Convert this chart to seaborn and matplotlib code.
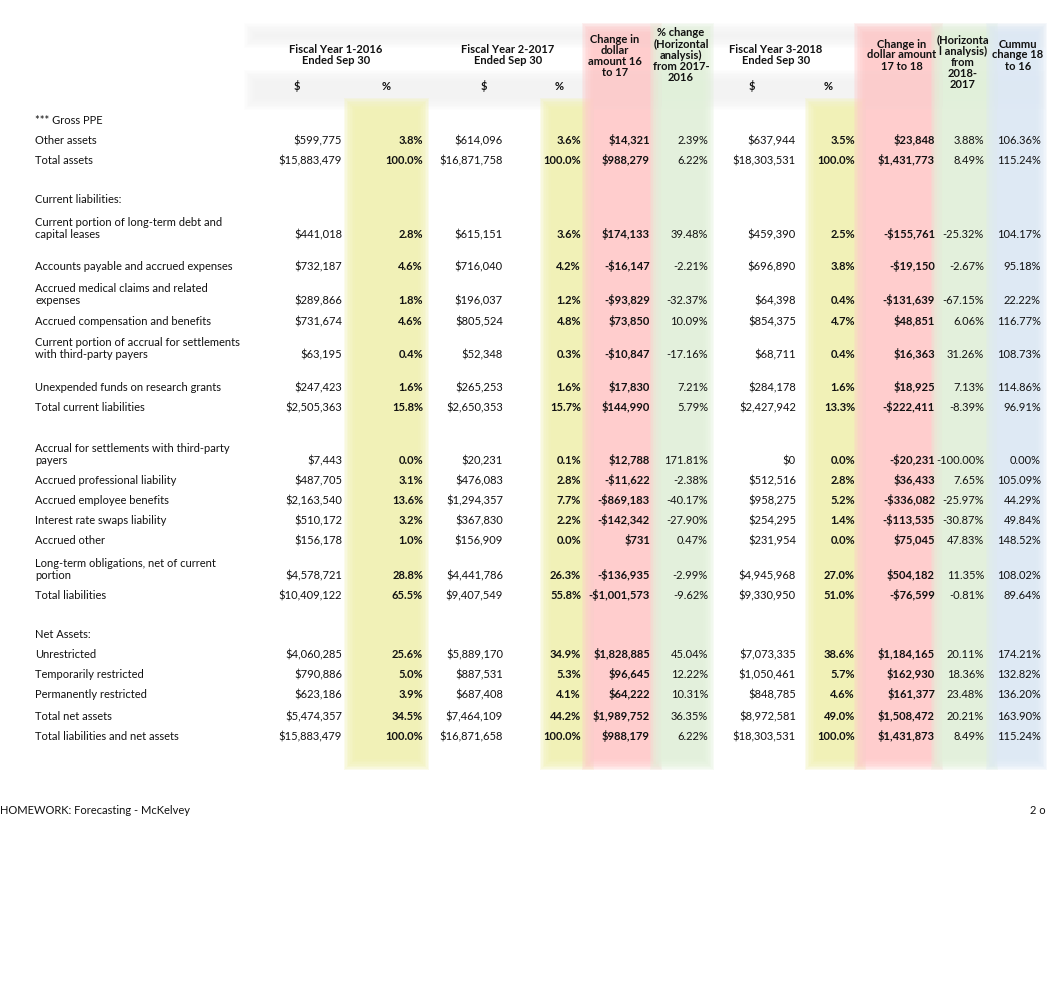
import matplotlib
matplotlib.use("Agg")
import matplotlib.pyplot as plt
import seaborn as sns
from matplotlib.patches import Rectangle

# balance sheet rows (None = heading / blank row)
labels = ["*** Gross PPE", "Other assets", "Total assets", "Current liabilities:",
          "Current portion of long-term debt and\ncapital leases",
          "Accounts payable and accrued expenses",
          "Accrued medical claims and related\nexpenses",
          "Accrued compensation and benefits",
          "Current portion of accrual for settlements\nwith third-party payers",
          "Unexpended funds on research grants", "Total current liabilities",
          "Accrual for settlements with third-party\npayers",
          "Accrued professional liability", "Accrued employee benefits",
          "Interest rate swaps liability", "Accrued other",
          "Long-term obligations, net of current\nportion", "Total liabilities",
          "Net Assets:", "Unrestricted", "Temporarily restricted",
          "Permanently restricted", "Total net assets",
          "Total liabilities and net assets"]

fy1_usd = [None, 599775, 15883479, None, 441018, 732187, 289866, 731674, 63195, 247423, 2505363,
           7443, 487705, 2163540, 510172, 156178, 4578721, 10409122, None,
           4060285, 790886, 623186, 5474357, 15883479]
fy1_pct = [None, 3.8, 100.0, None, 2.8, 4.6, 1.8, 4.6, 0.4, 1.6, 15.8,
           0.0, 3.1, 13.6, 3.2, 1.0, 28.8, 65.5, None, 25.6, 5.0, 3.9, 34.5, 100.0]
fy2_usd = [None, 614096, 16871758, None, 615151, 716040, 196037, 805524, 52348, 265253, 2650353,
           20231, 476083, 1294357, 367830, 156909, 4441786, 9407549, None,
           5889170, 887531, 687408, 7464109, 16871658]
fy2_pct = [None, 3.6, 100.0, None, 3.6, 4.2, 1.2, 4.8, 0.3, 1.6, 15.7,
           0.1, 2.8, 7.7, 2.2, 0.0, 26.3, 55.8, None, 34.9, 5.3, 4.1, 44.2, 100.0]
chg_1617 = [None, 14321, 988279, None, 174133, -16147, -93829, 73850, -10847, 17830, 144990,
            12788, -11622, -869183, -142342, 731, -136935, -1001573, None,
            1828885, 96645, 64222, 1989752, 988179]
pct_1617 = [None, 2.39, 6.22, None, 39.48, -2.21, -32.37, 10.09, -17.16, 7.21, 5.79,
            171.81, -2.38, -40.17, -27.90, 0.47, -2.99, -9.62, None,
            45.04, 12.22, 10.31, 36.35, 6.22]
fy3_usd = [None, 637944, 18303531, None, 459390, 696890, 64398, 854375, 68711, 284178, 2427942,
           0, 512516, 958275, 254295, 231954, 4945968, 9330950, None,
           7073335, 1050461, 848785, 8972581, 18303531]
fy3_pct = [None, 3.5, 100.0, None, 2.5, 3.8, 0.4, 4.7, 0.4, 1.6, 13.3,
           0.0, 2.8, 5.2, 1.4, 0.0, 27.0, 51.0, None, 38.6, 5.7, 4.6, 49.0, 100.0]
chg_1718 = [None, 23848, 1431773, None, -155761, -19150, -131639, 48851, 16363, 18925, -222411,
            -20231, 36433, -336082, -113535, 75045, 504182, -76599, None,
            1184165, 162930, 161377, 1508472, 1431873]
pct_1718 = [None, 3.88, 8.49, None, -25.32, -2.67, -67.15, 6.06, 31.26, 7.13, -8.39,
            -100.00, 7.65, -25.97, -30.87, 47.83, 11.35, -0.81, None,
            20.11, 18.36, 23.48, 20.21, 8.49]
cumm = [None, 106.36, 115.24, None, 104.17, 95.18, 22.22, 116.77, 108.73, 114.86, 96.91,
        0.00, 105.09, 44.29, 49.84, 148.52, 108.02, 89.64, None,
        174.21, 132.82, 136.20, 163.90, 115.24]

headers = ["Fiscal Year 1-2016\nEnded Sep 30", "Fiscal Year 2-2017\nEnded Sep 30",
           "Change in\ndollar\namount 16\nto 17",
           "% change\n(Horizontal\nanalysis)\nfrom 2017-\n2016",
           "Fiscal Year 3-2018\nEnded Sep 30", "Change in\ndollar amount\n17 to 18",
           "(Horizonta\nl analysis)\nfrom\n2018-\n2017", "Cummu\nchange 18\nto 16"]

# layout (pixel coordinates)
row_y = [120, 140, 160, 199, 234, 266, 300, 321, 354, 387, 407, 460, 480, 500, 520,
         540, 575, 595, 634, 654, 674, 694, 716, 736]
header_xy = [(336, 55), (508, 55), (615, 56), (681, 55), (776, 55), (902, 55),
             (963, 62), (1018, 55)]
sub_xy = [(297, "$"), (386, "%"), (484, "$"), (559, "%"), (752, "$"), (828, "%")]


def usd(v):
    return ("-$" if v < 0 else "$") + f"{abs(v):,.0f}"


def pct1(v):
    return f"{v:.1f}%"


def pct2(v):
    return f"{v:.2f}%"


columns = [(fy1_usd, 342, usd, False), (fy1_pct, 423, pct1, True),
           (fy2_usd, 503, usd, False), (fy2_pct, 581, pct1, True),
           (chg_1617, 650, usd, True), (pct_1617, 708, pct2, False),
           (fy3_usd, 796, usd, False), (fy3_pct, 855, pct1, True),
           (chg_1718, 935, usd, True), (pct_1718, 984, pct2, False),
           (cumm, 1041, pct2, False)]

bands = [(350, 423, 104, 764, "#f1f1b0"), (546, 588, 104, 764, "#f1f1b0"),
         (588, 656, 29, 764, "#ffc9c9"), (656, 708, 29, 764, "#e1f0d9"),
         (811, 860, 104, 764, "#f1f1b0"), (860, 937, 29, 764, "#ffc9c9"),
         (937, 992, 29, 764, "#e1f0d9"), (992, 1041, 29, 764, "#dce8f4")]

sns.set_theme(style="white")
plt.rcParams["font.family"] = ["Lato", "DejaVu Sans"]

fig = plt.figure(figsize=(10.62, 10.01), dpi=100)
ax = fig.add_axes([0, 0, 1, 1])
ax.set_xlim(0, 1062)
ax.set_ylim(1001, 0)
ax.axis("off")


def soft_rect(x0, x1, y0, y1, color, n=8, step=1.6, a=0.24):
    for k in range(n):
        d = (k - n / 2) * step
        ax.add_patch(Rectangle((x0 + d, y0 + d), (x1 - x0) - 2 * d, (y1 - y0) - 2 * d,
                               facecolor=color, edgecolor="none", alpha=a, zorder=1))


# faint grey header shading
soft_rect(250, 1040, 29, 42, "#f0f0f0", a=0.12)
soft_rect(250, 1040, 76, 104, "#f0f0f0", a=0.12)
for x0, x1, y0, y1, c in bands:
    soft_rect(x0, x1, y0, y1, c)

for txt, (x, y) in zip(headers, header_xy):
    ax.text(x, y, txt, ha="center", va="center", fontsize=8, fontweight="bold",
            linespacing=1.0, color="#111111", zorder=3)
for x, s in sub_xy:
    ax.text(x, 90, s, ha="center", va="baseline", fontsize=8, fontweight="bold",
            color="#111111", zorder=3)

for i, lab in enumerate(labels):
    y = row_y[i] + 4
    # baseline of a wrapped label sits on its last line, level with the values
    ax.text(35, y, lab, ha="left", va="baseline", fontsize=8, linespacing=1.15,
            color="#111111", zorder=3)
    for vals, xr, fmt, bold in columns:
        v = vals[i]
        if v is None:
            continue
        ax.text(xr, y, fmt(v), ha="right", va="baseline", fontsize=8,
                fontweight="bold" if bold else "normal", color="#111111", zorder=3)

ax.text(0, 814, "HOMEWORK: Forecasting - McKelvey", ha="left", va="baseline",
        fontsize=8, color="#111111")
ax.text(1030, 814, "2 o", ha="left", va="baseline", fontsize=8, color="#111111")

fig.savefig("out.png", dpi=100, facecolor="white")
